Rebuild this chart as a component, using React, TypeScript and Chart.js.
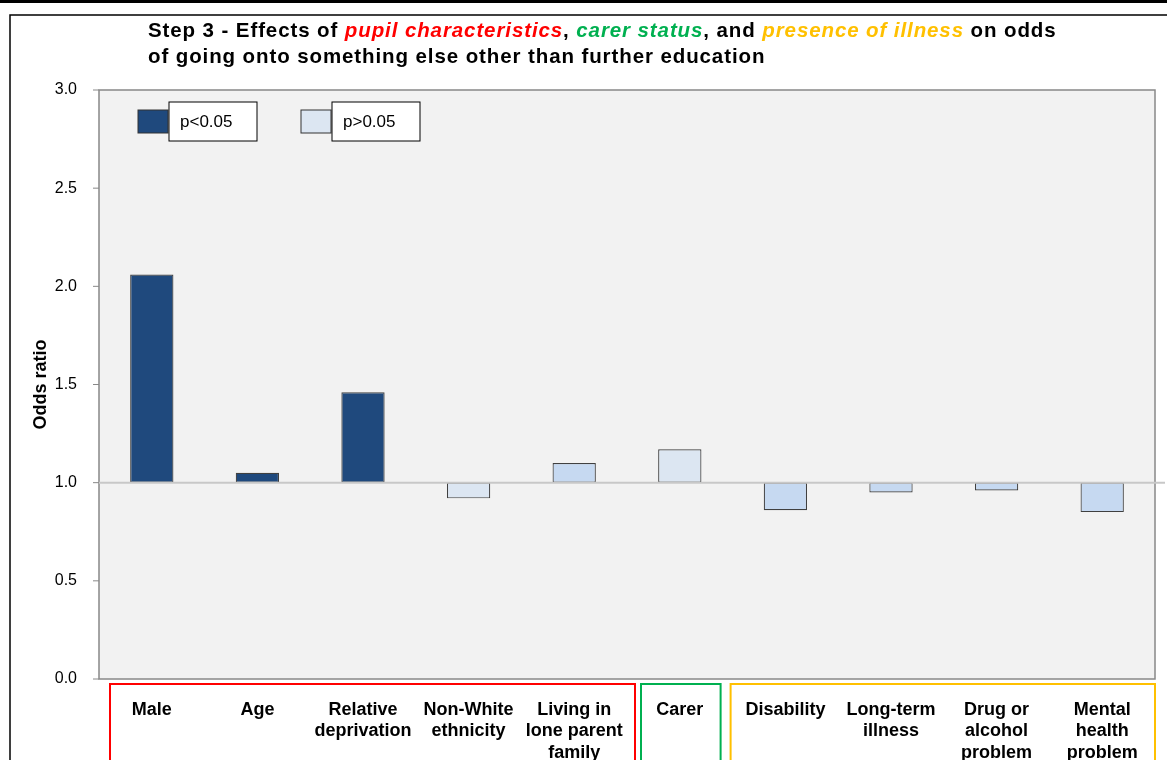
import React, { useEffect, useRef } from "react";
import { Chart, registerables } from "chart.js";
Chart.register(...registerables);

const categories = [["Male"], ["Age"], ["Relative", "deprivation"], ["Non-White", "ethnicity"], ["Living in", "lone parent", "family"], ["Carer"], ["Disability"], ["Long-term", "illness"], ["Drug or", "alcohol", "problem"], ["Mental", "health", "problem"]];
const oddsRatios = [2.06, 1.05, 1.46, 0.92, 1.1, 1.17, 0.86, 0.95, 0.96, 0.85];
const significant = [true, true, true, false, false, false, false, false, false, false];
const yTicks = [0, 0.5, 1.0, 1.5, 2.0, 2.5, 3.0];
const groups = [
  { from: 0, to: 4, color: "#ff0000" },
  { from: 5, to: 5, color: "#00b050" },
  { from: 6, to: 9, color: "#ffc000" },
];
const FONT = "'Liberation Sans', Arial, sans-serif";

export default function App() {
  const ref = useRef<HTMLCanvasElement>(null);
  useEffect(() => {
    const deco = {
      id: "deco",
      beforeDraw(c: any) {
        const { ctx, chartArea: a } = c;
        ctx.save();
        ctx.fillStyle = "#fff";
        ctx.fillRect(0, 0, c.width, c.height);
        ctx.fillStyle = "#f2f2f2";
        ctx.fillRect(a.left, a.top, a.right - a.left, a.bottom - a.top);
        ctx.strokeStyle = "#888";
        ctx.lineWidth = 1.5;
        ctx.strokeRect(a.left, a.top, a.right - a.left, a.bottom - a.top);
        ctx.restore();
      },
      afterDraw(c: any) {
        const { ctx, chartArea: a } = c;
        const x = c.scales.x;
        const y = c.scales.y;
        ctx.save();
        ctx.strokeStyle = "#000";
        ctx.lineWidth = 1.5;
        ctx.strokeRect(10, 15, 1160, 760);
        ctx.fillStyle = "#000";
        ctx.fillRect(0, 0, 1167, 3);
        ctx.strokeStyle = "#888"; ctx.lineWidth = 1;
        yTicks.forEach((v) => {
          const py = y.getPixelForValue(v);
          ctx.beginPath(); ctx.moveTo(a.left - 6, py); ctx.lineTo(a.left, py); ctx.stroke();
        });
        const y1 = y.getPixelForValue(1);
        ctx.strokeStyle = "#c8c8c8";
        ctx.lineWidth = 2;
        ctx.beginPath(); ctx.moveTo(a.left, y1); ctx.lineTo(a.right + 10, y1); ctx.stroke();
        ctx.textBaseline = "middle";
        (ctx as any).letterSpacing = "0.9px";
        let tx = 148;
        const seg = (t: string, col: string, it = false) => {
          ctx.font = `${it ? "italic " : ""}bold 20.5px ${FONT}`;
          ctx.fillStyle = col;
          ctx.fillText(t, tx, 31);
          tx += ctx.measureText(t).width;
        };
        seg("Step 3 - Effects of ", "#000");
        seg("pupil characteristics", "#ff0000", true);
        seg(", ", "#000");
        seg("carer status", "#00b050", true);
        seg(", and ", "#000");
        seg("presence of illness", "#ffc000", true);
        seg(" on odds", "#000");
        ctx.font = `bold 20.5px ${FONT}`;
        ctx.fillStyle = "#000";
        ctx.fillText("of going onto something else other than further education", 148, 57);
        (ctx as any).letterSpacing = "0px";
        const leg = (sx: number, col: string, txt: string) => {
          ctx.fillStyle = col; ctx.fillRect(sx, 110, 30, 23);
          ctx.strokeStyle = "#333"; ctx.lineWidth = 1; ctx.strokeRect(sx, 110, 30, 23);
          ctx.fillStyle = "#fff"; ctx.fillRect(sx + 31, 102, 88, 39);
          ctx.strokeStyle = "#000"; ctx.strokeRect(sx + 31, 102, 88, 39);
          ctx.fillStyle = "#000"; ctx.font = `17px ${FONT}`;
          ctx.fillText(txt, sx + 42, 122);
        };
        leg(138, "#1f497d", "p<0.05");
        leg(301, "#dce6f2", "p>0.05");
        const w = x.getPixelForValue(1) - x.getPixelForValue(0);
        ctx.lineWidth = 2;
        groups.forEach((g, i) => {
          let l = x.getPixelForValue(g.from) - w / 2;
          let r = x.getPixelForValue(g.to) + w / 2;
          if (i === 0) { l += 11; r += 8; }
          if (i === 1) { l += 14; r -= 12; }
          if (i === 2) { l -= 2; r = a.right; }
          ctx.strokeStyle = g.color;
          ctx.strokeRect(l, a.bottom + 5, r - l, 100);
        });
        ctx.restore();
      },
    };
    const chart = new Chart(ref.current!, {
      type: "bar",
      data: {
        labels: categories,
        datasets: [{
          data: oddsRatios.map((v) => [1, v]),
          backgroundColor: oddsRatios.map((v, i) => significant[i] ? "#1f497d" : (i === 3 || i === 5 ? "#dce6f2" : "#c6d9f1")),
          borderColor: "#404040",
          borderWidth: 1.2,
          borderSkipped: false,
          categoryPercentage: 1,
          barPercentage: 0.41,
        }],
      },
      plugins: [deco],
      options: {
        animation: false,
        responsive: false,
        devicePixelRatio: 1,
        layout: { padding: { top: 90, right: 12, left: 0, bottom: 0 } },
        plugins: { legend: { display: false }, tooltip: { enabled: false } },
        scales: {
          x: {
            grid: { display: false },
            border: { display: false },
            ticks: { font: { family: FONT, size: 18, weight: "bold", lineHeight: 1.2 }, color: "#000", maxRotation: 0, autoSkip: false, padding: 12 },
            afterFit: (s: any) => { s.height = 81; },
          },
          y: {
            min: 0, max: 3,
            afterBuildTicks: (s: any) => { s.ticks = yTicks.map((v) => ({ value: v })); },
            grid: { display: false },
            border: { display: false },
            ticks: { font: { family: FONT, size: 16 }, color: "#000", callback: (v: any) => Number(v).toFixed(1), padding: 14 },
            title: { display: true, text: "Odds ratio", font: { family: FONT, size: 18, weight: "bold" }, color: "#000", padding: { top: 30, bottom: 8 } },
            afterFit: (s: any) => { s.width = 99; },
          },
        },
      },
    });
    return () => chart.destroy();
  }, []);
  return (
    <div style={{ position: "absolute", left: 0, top: 0, width: 1167, height: 760, overflow: "hidden" }}>
      <canvas ref={ref} width={1167} height={760} />
    </div>
  );
}
